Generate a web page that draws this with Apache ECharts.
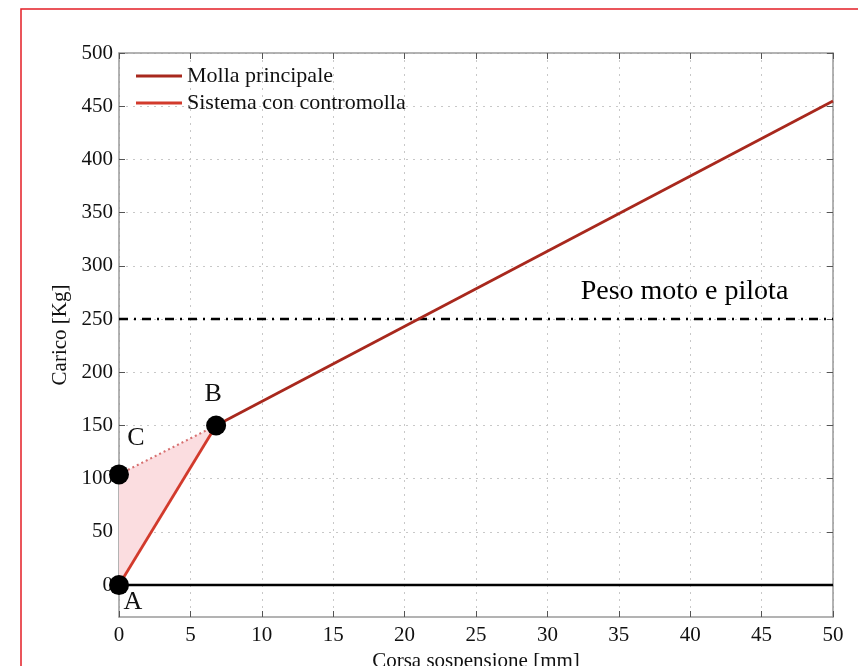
<!DOCTYPE html>
<html>
<head>
<meta charset="utf-8">
<title>Carico vs corsa sospensione</title>
<script src="https://cdn.jsdelivr.net/npm/echarts@6/dist/echarts.min.js"></script>
<style>
  html, body { margin: 0; padding: 0; background: #fff; }
  #chart { width: 858px; height: 666px; }
</style>
</head>
<body>
<div id="chart"></div>
<script>
// Suspension travel [mm] vs load [kg]
const xTicks = [0, 5, 10, 15, 20, 25, 30, 35, 40, 45, 50];
const yTicks = [0, 50, 100, 150, 200, 250, 300, 350, 400, 450, 500];

// Main spring, from B to the end of travel
const mollaPrincipale = [[6.8, 150], [50, 455]];
// Preloaded system with counter-spring, from A to B
const sistemaContromolla = [[0, 0], [6.8, 150]];
// Main spring extended back to zero travel (C to B)
const prolungamento = [[0, 104], [6.8, 150]];
// Shaded region A - C - B
const triangolo = [[0, 0], [0, 104], [6.8, 150]];
// Characteristic points
const puntiNomi = ['A', 'C', 'B'];
const puntiValori = [[0, 0], [0, 104], [6.8, 150]];
// Bike + rider weight reference
const pesoMoto = 250;
const pesoLabel = 'Peso moto e pilota';
const pesoLabelPos = [39.6, 276];
const zeroLine = [[0, 0], [50, 0]];

const SERIF = '"Liberation Serif", "DejaVu Serif", serif';
const AXIS_GRAY = '#9a9a9a';
const TEXT = '#111';

const chart = echarts.init(document.getElementById('chart'));

// Letter placement around each marker
const labelOffsets = { A: [14, 17], B: [-3, -31], C: [17, -36] };

chart.setOption({
  animation: false,
  backgroundColor: '#fff',
  graphic: [{
    type: 'rect',
    shape: { x: 21, y: 9, width: 900, height: 700 },
    style: { fill: 'none', stroke: '#e41e26', lineWidth: 1.5 },
    silent: true,
    z: 100
  }],
  grid: { left: 119, right: 25, top: 53, bottom: 49, containLabel: false, outerBoundsMode: 'none' },
  legend: {
    orient: 'vertical',
    left: 131,
    top: 60,
    icon: 'rect',
    itemWidth: 46,
    itemHeight: 3,
    itemGap: 5,
    data: ['Molla principale', 'Sistema con contromolla'],
    textStyle: { fontFamily: SERIF, fontSize: 22, color: TEXT },
    backgroundColor: 'rgba(255,255,255,0)'
  },
  xAxis: [{
    type: 'value',
    min: 0, max: 50, interval: 5,
    name: 'Corsa sospensione [mm]',
    nameLocation: 'middle',
    nameGap: 33,
    nameTextStyle: { fontFamily: SERIF, fontSize: 21, color: TEXT },
    axisLine: { show: true, onZero: false, lineStyle: { color: AXIS_GRAY, width: 1.5 } },
    axisTick: { show: true, inside: true, length: 6, lineStyle: { color: '#555', width: 1 } },
    axisLabel: { fontFamily: SERIF, fontSize: 21, color: TEXT, margin: 8 },
    splitLine: { show: true, lineStyle: { color: '#c8c8c8', type: [2, 5], width: 1 } }
  }, {
    type: 'value',
    position: 'top',
    min: 0, max: 50, interval: 5,
    axisLine: { show: true, onZero: false, lineStyle: { color: AXIS_GRAY, width: 1.5 } },
    axisTick: { show: true, inside: true, length: 6, lineStyle: { color: '#555', width: 1 } },
    axisLabel: { show: false },
    splitLine: { show: false }
  }],
  yAxis: [{
    type: 'value',
    min: -30, max: 500,
    name: 'Carico [Kg]',
    nameLocation: 'middle',
    nameGap: 45,
    nameTextStyle: { fontFamily: SERIF, fontSize: 21, color: TEXT },
    axisLine: { show: true, onZero: false, lineStyle: { color: AXIS_GRAY, width: 1.5 } },
    axisTick: { show: true, inside: true, length: 6, customValues: yTicks, lineStyle: { color: '#555', width: 1 } },
    axisLabel: { fontFamily: SERIF, fontSize: 21, color: TEXT, margin: 6, customValues: yTicks },
    splitLine: { show: true, lineStyle: { color: '#c8c8c8', type: [2, 5], width: 1 } }
  }, {
    type: 'value',
    position: 'right',
    min: -30, max: 500,
    axisLine: { show: true, onZero: false, lineStyle: { color: AXIS_GRAY, width: 1.5 } },
    axisTick: { show: true, inside: true, length: 6, customValues: yTicks, lineStyle: { color: '#555', width: 1 } },
    axisLabel: { show: false, customValues: yTicks },
    splitLine: { show: false }
  }],
  series: [
    {
      name: 'area',
      type: 'custom',
      silent: true,
      z: 1,
      renderItem: function (params, api) {
        const pts = triangolo.map(p => api.coord(p));
        return {
          type: 'polygon',
          shape: { points: pts },
          style: { fill: '#fbdde0', stroke: 'none' }
        };
      },
      data: [0]
    },
    {
      name: 'zero',
      type: 'line',
      data: zeroLine,
      symbol: 'none',
      lineStyle: { color: '#000', width: 2.5 },
      z: 3
    },
    {
      name: 'peso',
      type: 'line',
      data: [[0, pesoMoto], [50, pesoMoto]],
      symbol: 'none',
      lineStyle: { color: '#000', width: 2.5, type: [9, 6, 2, 6] },
      z: 3
    },
    {
      name: 'prolungamento',
      type: 'line',
      data: prolungamento,
      symbol: 'none',
      lineStyle: { color: '#d77070', width: 2, type: [2, 3] },
      z: 3
    },
    {
      name: 'Sistema con contromolla',
      type: 'line',
      data: sistemaContromolla,
      symbol: 'none',
      color: '#d23a2c',
      lineStyle: { color: '#d23a2c', width: 2.8 },
      z: 4
    },
    {
      name: 'Molla principale',
      type: 'line',
      data: mollaPrincipale,
      symbol: 'none',
      color: '#a8281d',
      lineStyle: { color: '#a8281d', width: 2.8 },
      z: 4
    },
    {
      name: 'punti',
      type: 'scatter',
      symbol: 'circle',
      symbolSize: 20,
      itemStyle: { color: '#000', opacity: 1 },
      data: puntiNomi.map((n, i) => ({
        name: n,
        value: puntiValori[i],
        label: {
          show: true,
          position: 'inside',
          formatter: n,
          offset: labelOffsets[n],
          fontFamily: SERIF,
          fontSize: 26,
          color: TEXT
        }
      })),
      z: 6
    },
    {
      name: 'testo',
      type: 'scatter',
      data: [pesoLabelPos],
      symbolSize: 0,
      silent: true,
      itemStyle: { opacity: 1 },
      label: {
        show: true,
        position: 'inside',
        formatter: pesoLabel,
        fontFamily: SERIF,
        fontSize: 28,
        color: '#000'
      },
      z: 6
    }
  ]
});
</script>
</body>
</html>
